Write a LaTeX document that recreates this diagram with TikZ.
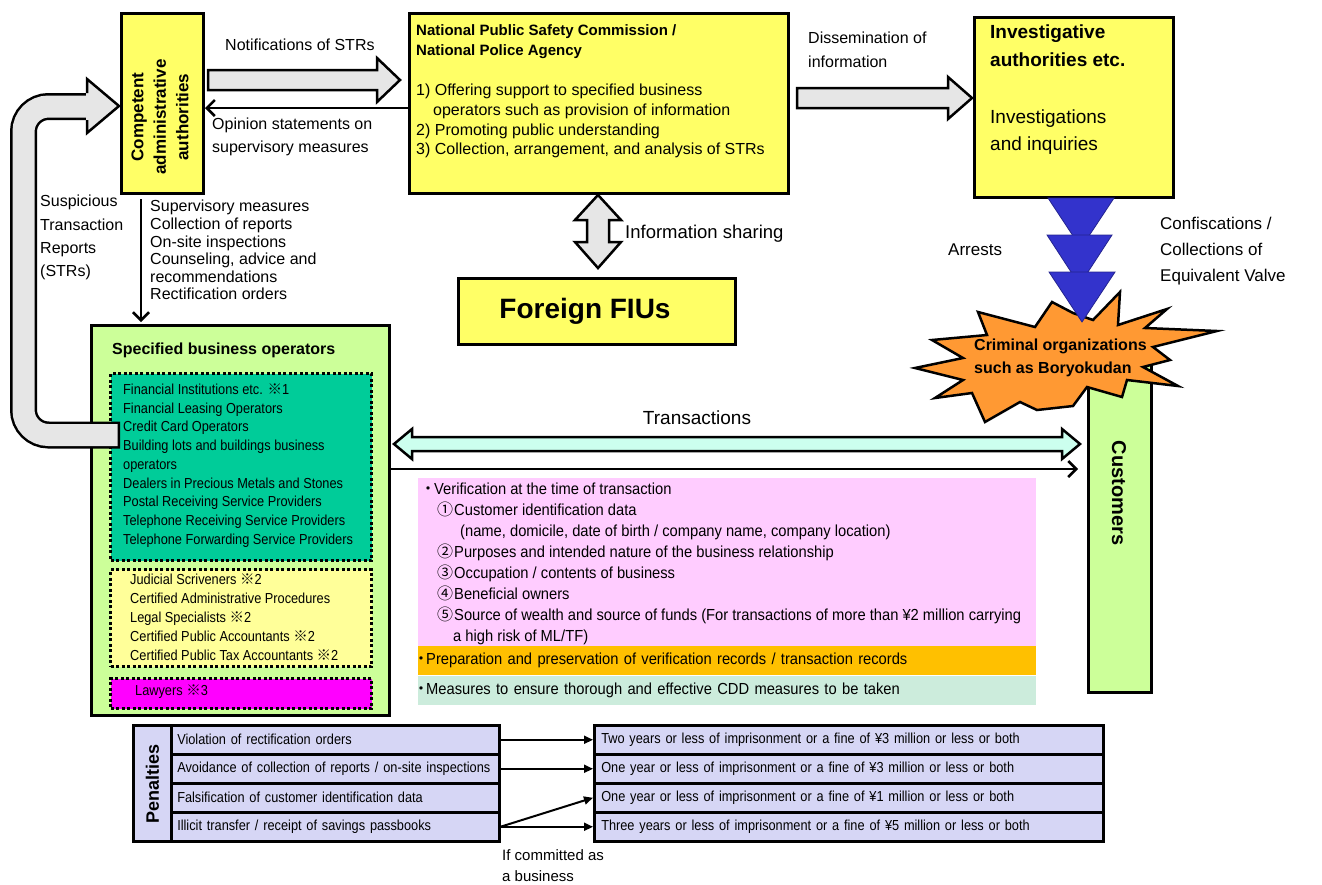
\documentclass[tikz,border=0pt]{standalone}
\usepackage{fontspec}
\setmainfont{Liberation Sans}
\newfontfamily\narrowfont{Liberation Sans}[FakeStretch=0.88]
\newfontfamily\midfont{Liberation Sans}[FakeStretch=0.92]
\newfontfamily\cjk{Noto Sans CJK JP}
\usetikzlibrary{arrows.meta, positioning}
\definecolor{boxyellow}{RGB}{255,255,102}
\definecolor{paleyellow}{RGB}{255,255,153}
\definecolor{arrowgray}{RGB}{230,230,230}
\definecolor{opgreen}{RGB}{204,255,153}
\definecolor{opteal}{RGB}{0,204,153}
\definecolor{lawmagenta}{RGB}{255,0,255}
\definecolor{verifpink}{RGB}{255,204,255}
\definecolor{recorange}{RGB}{255,192,0}
\definecolor{cddgreen}{RGB}{204,236,220}
\definecolor{txcyan}{RGB}{204,255,238}
\definecolor{penblue}{RGB}{214,214,245}
\definecolor{triblue}{RGB}{51,51,204}
\definecolor{starorange}{RGB}{255,153,51}
\newcommand{\fsz}[2]{\fontsize{#1}{#2}\selectfont}
\newcommand{\kome}{{\cjk ※}}

\begin{document}
\begin{tikzpicture}[x=1pt, y=-1pt,
    panel/.style={draw, line width=3, anchor=north west, inner sep=0},
    yellowbox/.style={panel, fill=boxyellow},
    dotbox/.style={panel, dash pattern=on 3pt off 2.5pt},
    flat/.style={anchor=north west, inner sep=0},
    lbl/.style={anchor=north west, inner sep=0, align=left},
    hollow/.style={draw, line width=2.5, fill=arrowgray, line join=miter},
    arrow/.style={line width=2.5, -{Straight Barb[length=8pt,width=16pt]}},
    penarrow/.style={line width=2, -{Triangle[length=9pt,width=8pt]}},
    penrow/.style={panel, line width=2.5, fill=penblue, minimum height=29, align=left}
]
\useasboundingbox (0,0) rectangle (1322,884);

% top row
\node[yellowbox, minimum width=82, minimum height=180] (caa) at (120,12) {};
\node[rotate=90, font=\bfseries\fsz{17}{22.5}, align=center, inner sep=0] (caatext) at (160,117) {Competent\\administrative\\authorities};

\node[yellowbox, minimum width=379, minimum height=180] (npsc) at (408,12) {};
\node[lbl, font=\bfseries\fsz{15}{20}] (npsctitle) at (416,24) {National Public Safety Commission /\\National Police Agency};
\node[lbl, font=\fsz{16}{19.7}] (npsclist) at (416,84) {1) Offering support to specified business\\
\hspace*{17pt}operators such as provision of information\\
2) Promoting public understanding\\
3) Collection, arrangement, and analysis of STRs};

\node[yellowbox, minimum width=199, minimum height=180] (inv) at (973,16) {};
\node[lbl, font=\bfseries\fsz{19}{28}] (invtitle) at (990,25) {Investigative\\authorities etc.};
\node[lbl, font=\fsz{19}{27}] (invtext) at (990,110) {Investigations\\and inquiries};

\node[yellowbox, minimum width=277, minimum height=66] (fiu) at (457,277) {};
\node[font=\bfseries\fsz{28}{32}] (fiutext) at (585,311) {Foreign FIUs};

% fat arrows
\draw[hollow] (208,70) -- (377,70) -- (377,58) -- (400,80) -- (377,102) -- (377,90) -- (208,90) -- cycle;
\node[lbl, font=\fsz{16}{20}] (notif) at (225,39) {Notifications of STRs};
\draw[arrow] (npsc.west |- 0,108) -- (caa.east |- 0,108);
\node[lbl, font=\fsz{16}{23}] (opinion) at (212,118) {Opinion statements on\\supervisory measures};

\draw[hollow] (797,88) -- (948,88) -- (948,77) -- (972,98) -- (948,119) -- (948,108) -- (797,108) -- cycle;
\node[lbl, font=\fsz{16}{24}] (dissem) at (808,32) {Dissemination of\\information};

\draw[hollow] (598,195) -- (621,220) -- (609,220) -- (609,242) -- (621,242) -- (598,268)
  -- (575,242) -- (587,242) -- (587,220) -- (575,220) -- cycle;
\node[anchor=west, inner sep=0, font=\fsz{18.5}{22}] (share) at (625,234) {Information sharing};

% left side
\node[lbl, font=\fsz{16}{23.3}] (strs) at (40,195) {Suspicious\\Transaction\\Reports\\(STRs)};
\draw[arrow, shorten <=4] (caa.south -| 141,0) -- (141,322);
\node[lbl, font=\fsz{16}{17.6}] (superv) at (150,200) {Supervisory measures\\Collection of reports\\On-site inspections\\Counseling, advice and\\recommendations\\Rectification orders};

% specified business operators
\node[panel, fill=opgreen, minimum width=298, minimum height=390] (spec) at (90,324) {};
\node[anchor=west, inner sep=0, font=\bfseries\fsz{16}{20}] (spectitle) at (112,350) {Specified business operators};
\node[dotbox, fill=opteal, minimum width=261, minimum height=187] (fin) at (109,372) {};
\node[lbl, font=\narrowfont\fsz{14.5}{18.75}] (fintext) at (123,383.5) {Financial Institutions etc. \kome1\\
Financial Leasing Operators\\
Credit Card Operators\\
Building lots and buildings business\\
operators\\
Dealers in Precious Metals and Stones\\
Postal Receiving Service Providers\\
Telephone Receiving Service Providers\\
Telephone Forwarding Service Providers};
\node[dotbox, fill=paleyellow, minimum width=261, minimum height=97] (prof) at (109,568) {};
\node[lbl, font=\narrowfont\fsz{14.5}{19}] (proftext) at (130,573.5) {Judicial Scriveners \kome2\\
Certified Administrative Procedures\\
Legal Specialists \kome2\\
Certified Public Accountants \kome2\\
Certified Public Tax Accountants \kome2};
\node[dotbox, fill=lawmagenta, minimum width=261, minimum height=30] (law) at (109,677) {};
\node[anchor=west, inner sep=0, font=\narrowfont\fsz{14.5}{18}] (lawtext) at (135,692) {Lawyers \kome3};

% STR loop arrow
\draw[line width=27, rounded corners=25] (120,435) -- (23.5,435) -- (23.5,106.5) -- (88,106.5);
\draw[line width=22, arrowgray, rounded corners=25] (117.5,435) -- (23.5,435) -- (23.5,106.5) -- (89,106.5);
\fill[arrowgray] (86,79) -- (119,106) -- (86,133) -- cycle;
\draw[line width=2.5, line join=miter] (87,93) -- (87,79) -- (119,106) -- (87,133) -- (87,120);

% customers and criminal organizations
\node[panel, fill=opgreen, minimum width=63, minimum height=331] (cust) at (1087,360) {};
\node[rotate=-90, font=\bfseries\fsz{20}{24}] (custtext) at (1119,493) {Customers};
\draw[fill=starorange, line width=2.5, line join=miter] (978,312) -- (1035,327) -- (1052,302) -- (1073,313)
  -- (1093,320) -- (1120,292) -- (1118,325) -- (1167,309) -- (1145,328) -- (1217,331) -- (1153,347)
  -- (1170,360) -- (1143,367) -- (1178,386) -- (1127,380) -- (1122,397) -- (1087,387) -- (1073,406)
  -- (1037,410) -- (1020,402) -- (985,422) -- (972,393) -- (935,398) -- (963,380) -- (915,368)
  -- (963,358) -- (932,340) -- (987,335) -- cycle;
\foreach \ty/\xl/\xr in {198/1048/1114, 235/1047/1112, 272/1049/1115}
  \draw[fill=triblue, draw=triblue!70!black, line width=0.8] (\xl,\ty) -- (\xr,\ty) -- ({(\xl+\xr)/2},{\ty+50}) -- cycle;
\node[lbl, font=\bfseries\fsz{16}{23}] (crim) at (974,339) {Criminal organizations\\such as Boryokudan};
\node[anchor=west, inner sep=0, font=\fsz{17}{20}] (arrests) at (948,250) {Arrests};
\node[lbl, font=\fsz{17}{26}] (confisc) at (1160,216.5) {Confiscations /\\Collections of\\Equivalent Valve};

% transactions
\draw[hollow, fill=txcyan] (394,444) -- (412,429) -- (412,437) -- (1062,437) -- (1062,429) -- (1080,444)
  -- (1062,459) -- (1062,451) -- (412,451) -- (412,459) -- cycle;
\node[font=\fsz{19}{22}] (trans) at (697,418) {Transactions};
\draw[arrow, shorten >=9] (spec.east |- 0,469) -- (cust.west |- 0,469);

\node[flat, fill=verifpink, minimum width=618, minimum height=168] (verif) at (418,478) {};
\node[lbl, font=\midfont\fsz{16}{21}] (veriftext) at (420,483) {{\cjk ・}\kern-2pt Verification at the time of transaction\\
\hspace*{17pt}{\cjk ①}\kern1pt Customer identification data\\
\hspace*{40pt}(name, domicile, date of birth / company name, company location)\\
\hspace*{17pt}{\cjk ②}\kern1pt Purposes and intended nature of the business relationship\\
\hspace*{17pt}{\cjk ③}\kern1pt Occupation / contents of business\\
\hspace*{17pt}{\cjk ④}\kern1pt Beneficial owners\\
\hspace*{17pt}{\cjk ⑤}\kern1pt Source of wealth and source of funds (For transactions of more than ¥2 million carrying\\
\hspace*{33pt}a high risk of ML/TF)};
\node[flat, fill=recorange, minimum width=618, minimum height=29, text width=616, inner xsep=1, align=left,
  font=\midfont\fsz{16}{20}] (records) at (418,646) {\kern-6pt{\cjk ・}\kern-3pt Preparation and preservation of verification records / transaction records};
\node[flat, fill=cddgreen, minimum width=618, minimum height=29, text width=616, inner xsep=1, align=left,
  font=\midfont\fsz{16}{20}] (cdd) at (418,676) {\kern-6pt{\cjk ・}\kern-3pt Measures to ensure thorough and effective CDD measures to be taken};

% penalties
\node[panel, fill=penblue, minimum width=38, minimum height=116] (pen) at (132,724) {};
\node[rotate=90, font=\bfseries\fsz{18}{20}] (pentext) at (pen.center) {Penalties};
\node[penrow, text width=316, inner xsep=6, font=\narrowfont\fsz{14.5}{17}] (v1) at (170,724) {Violation of rectification orders};
\node[penrow, text width=316, inner xsep=6, font=\narrowfont\fsz{14.5}{17}] (v2) at (170,753) {Avoidance of collection of reports / on-site inspections};
\node[penrow, text width=316, inner xsep=6, font=\narrowfont\fsz{14.5}{17}] (v3) at (170,782) {Falsification of customer identification data};
\node[penrow, text width=316, inner xsep=6, font=\narrowfont\fsz{14.5}{17}] (v4) at (170,811) {Illicit transfer / receipt of savings passbooks};
\node[penrow, text width=495, inner xsep=7, font=\narrowfont\fsz{14.5}{17}] (p1) at (593,724) {Two years or less of imprisonment or a fine of ¥3 million or less or both};
\node[penrow, text width=495, inner xsep=7, font=\narrowfont\fsz{14.5}{17}] (p2) at (593,753) {One year or less of imprisonment or a fine of ¥3 million or less or both};
\node[penrow, text width=495, inner xsep=7, font=\narrowfont\fsz{14.5}{17}] (p3) at (593,782) {One year or less of imprisonment or a fine of ¥1 million or less or both};
\node[penrow, text width=495, inner xsep=7, font=\narrowfont\fsz{14.5}{17}] (p4) at (593,811) {Three years or less of imprisonment or a fine of ¥5 million or less or both};
\draw[penarrow] (v1.east) -- (p1.west);
\draw[penarrow] (v2.east) -- (p2.west);
\draw[penarrow] (v4.east) -- (p3.west);
\draw[penarrow] (v4.east) -- (p4.west);
\node[lbl, font=\fsz{15}{21}] (business) at (502,849) {If committed as\\a business};
\end{tikzpicture}
\end{document}
